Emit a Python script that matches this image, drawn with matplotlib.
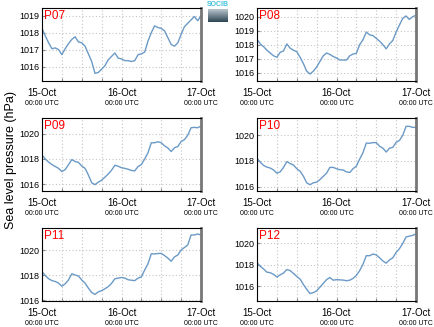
import matplotlib
matplotlib.use("Agg")
import matplotlib.pyplot as plt
import numpy as np

plt.rcParams['font.family'] = ['Liberation Sans', 'DejaVu Sans']

hours = list(range(49))

p07 = [1018.25, 1017.8, 1017.4, 1017.05, 1017.1, 1017.0, 1016.7, 1017.05, 1017.35, 1017.6,
       1017.75, 1017.45, 1017.4, 1017.2, 1016.75, 1016.3, 1015.6, 1015.65, 1015.85, 1016.05,
       1016.4, 1016.6, 1016.8, 1016.5, 1016.45, 1016.35, 1016.35, 1016.3, 1016.35, 1016.7,
       1016.75, 1016.85, 1017.5, 1018.0, 1018.4, 1018.3, 1018.25, 1018.1, 1017.7, 1017.3,
       1017.2, 1017.4, 1017.9, 1018.35, 1018.55, 1018.75, 1018.95, 1018.7, 1019.0]
p08 = [1018.38, 1018.05, 1017.85, 1017.6, 1017.4, 1017.2, 1017.1, 1017.45, 1017.55, 1018.05,
       1017.75, 1017.6, 1017.5, 1017.1, 1016.65, 1016.1, 1015.9, 1016.1, 1016.4, 1016.8,
       1017.2, 1017.4, 1017.3, 1017.15, 1017.05, 1016.9, 1016.9, 1016.9, 1017.2, 1017.33,
       1017.38, 1018.0, 1018.35, 1018.9, 1018.7, 1018.65, 1018.45, 1018.25, 1018.0, 1017.7,
       1018.05, 1018.3, 1018.9, 1019.4, 1019.88, 1020.05, 1019.8, 1020.0, 1020.1]
p09 = [1018.32, 1018.0, 1017.75, 1017.55, 1017.4, 1017.25, 1017.0, 1017.15, 1017.55, 1017.95,
       1017.8, 1017.73, 1017.44, 1017.25, 1016.72, 1016.1, 1015.95, 1016.15, 1016.3, 1016.55,
       1016.8, 1017.1, 1017.5, 1017.42, 1017.3, 1017.25, 1017.18, 1017.08, 1017.05, 1017.4,
       1017.55, 1018.0, 1018.5, 1019.3, 1019.3, 1019.38, 1019.3, 1019.05, 1018.88, 1018.6,
       1018.9, 1019.0, 1019.4, 1019.55, 1019.9, 1020.5, 1020.53, 1020.5, 1020.64]
p10 = [1018.21, 1017.9, 1017.65, 1017.52, 1017.45, 1017.3, 1017.05, 1017.15, 1017.5, 1017.95,
       1017.8, 1017.69, 1017.4, 1017.2, 1016.82, 1016.3, 1016.15, 1016.3, 1016.35, 1016.55,
       1016.8, 1017.05, 1017.5, 1017.5, 1017.4, 1017.32, 1017.3, 1017.15, 1017.1, 1017.4,
       1017.6, 1018.15, 1018.65, 1019.4, 1019.38, 1019.43, 1019.43, 1019.15, 1019.0, 1018.7,
       1019.0, 1019.06, 1019.45, 1019.6, 1020.0, 1020.7, 1020.7, 1020.62, 1020.62]
p11 = [1018.27, 1017.95, 1017.7, 1017.55, 1017.48, 1017.35, 1017.1, 1017.3, 1017.6, 1018.1,
       1018.0, 1017.92, 1017.6, 1017.35, 1016.95, 1016.6, 1016.45, 1016.65, 1016.75, 1016.9,
       1017.07, 1017.33, 1017.7, 1017.75, 1017.8, 1017.75, 1017.62, 1017.58, 1017.55, 1017.75,
       1017.85, 1018.4, 1018.9, 1019.7, 1019.68, 1019.72, 1019.73, 1019.55, 1019.35, 1019.1,
       1019.45, 1019.6, 1020.0, 1020.2, 1020.4, 1021.2, 1021.2, 1021.28, 1021.2]
p12 = [1018.19, 1017.85, 1017.6, 1017.3, 1017.25, 1017.1, 1016.85, 1017.05, 1017.22, 1017.55,
       1017.45, 1017.19, 1016.9, 1016.65, 1016.15, 1015.7, 1015.3, 1015.38, 1015.55, 1015.9,
       1016.25, 1016.6, 1016.8, 1016.55, 1016.6, 1016.58, 1016.56, 1016.5, 1016.55, 1016.72,
       1017.0, 1017.45, 1018.05, 1018.85, 1018.84, 1019.0, 1018.92, 1018.65, 1018.35, 1018.15,
       1018.45, 1018.65, 1019.15, 1019.5, 1020.0, 1020.6, 1020.68, 1020.75, 1020.88]

names = ["P07", "P08", "P09", "P10", "P11", "P12"]
series = [p07, p08, p09, p10, p11, p12]
ylims = [(1015.15, 1019.45), (1015.4, 1020.62), (1015.44, 1021.28),
         (1015.66, 1021.35), (1015.92, 1021.76), (1014.6, 1021.44)]
yticks = [[1016, 1017, 1018, 1019], [1016, 1017, 1018, 1019, 1020],
          [1016, 1018, 1020], [1016, 1018, 1020], [1016, 1018, 1020], [1016, 1018, 1020]]
xtick_dates = ["15-Oct", "16-Oct", "17-Oct"]
xtick_hours = [0, 24, 48]

W, H = 435, 327
fig = plt.figure(figsize=(W / 100, H / 100), dpi=100)
fig.patch.set_facecolor("white")

boxes = [(42, 8), (257, 8), (42, 118), (257, 118), (42, 228), (257, 228)]
aw, ah = 159, 73

for (x0, y0), name, vals, yl, yt in zip(boxes, names, series, ylims, yticks):
    ax = fig.add_axes([x0 / W, 1 - (y0 + ah) / H, aw / W, ah / H])
    ax.plot(hours, vals, color="#6b9ac6", lw=1.0)
    ax.set_xlim(0, 48)
    ax.set_ylim(*yl)
    ax.set_yticks(yt)
    ax.set_yticklabels([str(v) for v in yt], fontsize=6.5)
    ax.set_xticks(np.arange(0, 49, 6))
    ax.set_xticklabels([])
    ax.grid(True, color="#c4c4c4", ls=(0, (1, 2)), lw=0.8)
    ax.tick_params(axis="both", direction="in", length=2, color="#888888", pad=2)
    for s in ["left", "top", "bottom"]:
        ax.spines[s].set_color("black")
        ax.spines[s].set_linewidth(0.8)
    ax.spines["right"].set_color("#777777")
    ax.spines["right"].set_linewidth(2)
    for h, d in zip(xtick_hours, xtick_dates):
        ax.text(h, -0.1, d, transform=ax.get_xaxis_transform(), ha="center", va="top",
                fontsize=7)
        ax.text(h, -0.26, "00:00 UTC", transform=ax.get_xaxis_transform(), ha="center",
                va="top", fontsize=5)
    ax.text(0.01, 0.97, name, transform=ax.transAxes, color="red", fontsize=8.5,
            ha="left", va="top")

fig.text(11 / W, 1 - 160 / H, "Sea level pressure (hPa)", rotation=90, ha="center",
         va="center", fontsize=9)

# logo
fig.text(218 / W, 1 - 5 / H, "SOCIB", color="#3fc0d8", fontsize=5, ha="center",
         va="center", fontweight="bold")
lax = fig.add_axes([208 / W, 1 - 22 / H, 20 / W, 13 / H])
grad = np.linspace(0, 1, 20).reshape(-1, 1)
lax.imshow(grad, aspect="auto", cmap=matplotlib.colors.LinearSegmentedColormap.from_list(
    "g", ["#b8c4cc", "#2f4655"]))
lax.axis("off")

fig.savefig("out.png", dpi=100)
